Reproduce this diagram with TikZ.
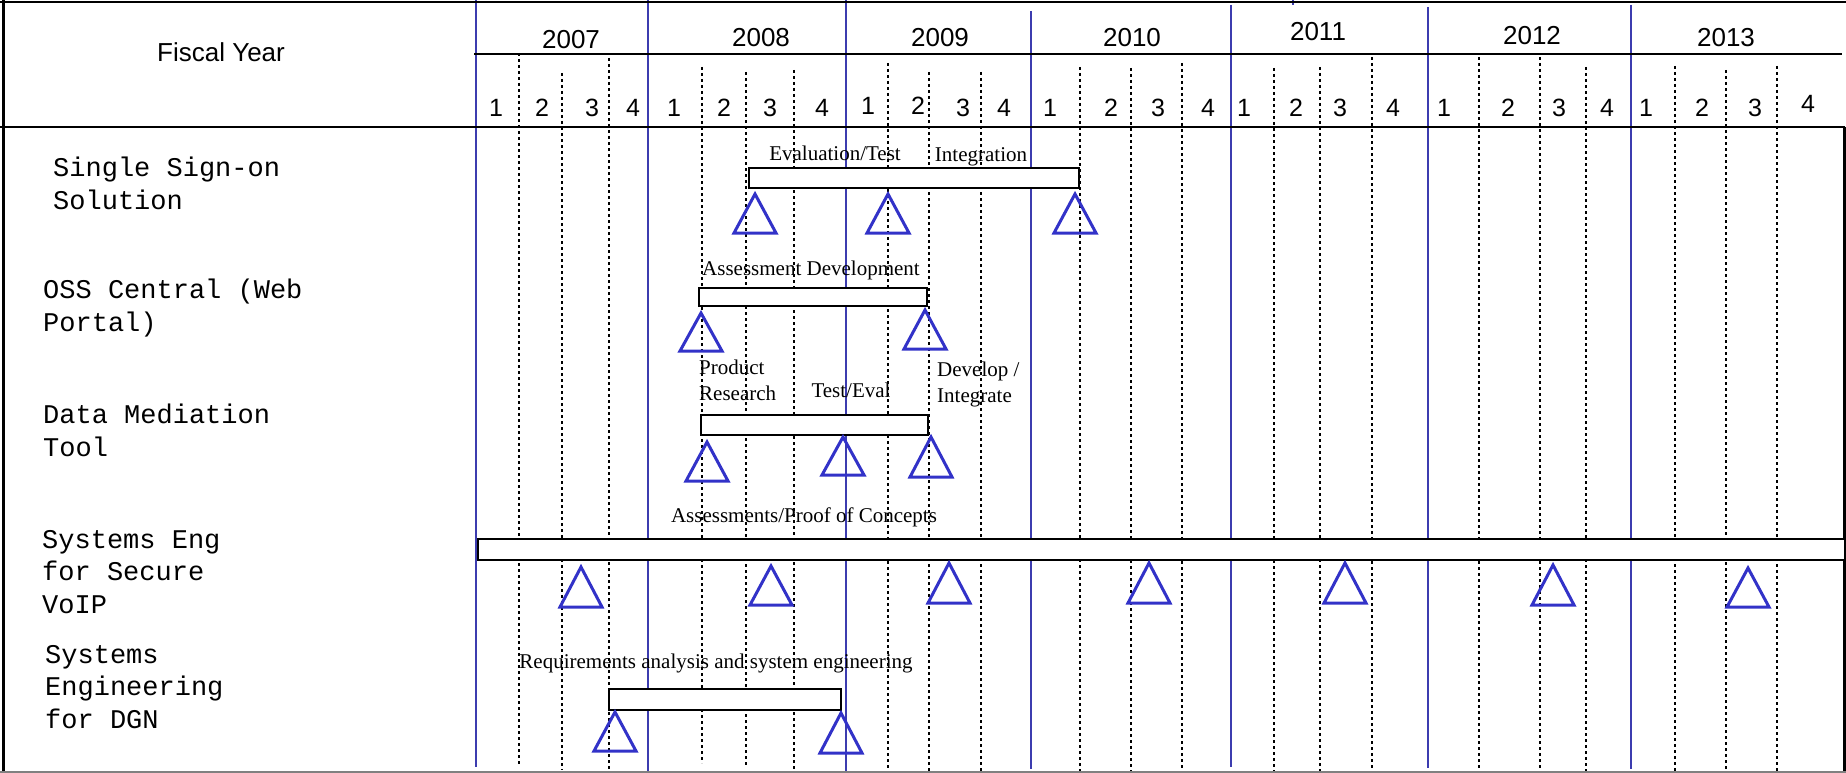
\documentclass[tikz,border=0pt]{standalone}
\usepackage{fontspec}
\newfontfamily\hdrfont{Liberation Sans}
\newfontfamily\rowfont{Liberation Mono}
\newfontfamily\barfont{Liberation Serif}
\definecolor{yearblue}{RGB}{60,60,175}
\definecolor{msblue}{RGB}{50,50,200}

\begin{document}
\begin{tikzpicture}[x=1pt, y=-1pt,
    yearline/.style={yearblue, line width=1.6},
    qline/.style={line width=2, dash pattern=on 3 off 3},
    frame/.style={line width=2.5},
    bar/.style={draw, fill=white, line width=2.5},
    mstone/.style={msblue, line width=3},
    ylabel/.style={anchor=base, inner sep=0, font=\hdrfont\fontsize{26}{30}\selectfont},
    qlabel/.style={anchor=base, inner sep=0, font=\hdrfont\fontsize{25}{30}\selectfont},
    rowlabel/.style={anchor=base west, inner sep=0, align=left, font=\rowfont\fontsize{27}{32.5}\selectfont},
    barlabel/.style={anchor=base, inner sep=0, align=left, font=\barfont\fontsize{21}{25.5}\selectfont}]
    \useasboundingbox (0,0) rectangle (1846,773);

    % quarter lines
    \foreach \x/\t/\b in {519/53/765, 562/73/770, 609/58/773, 702/67/763, 746/72/767, 794/70/773,
                          888/63/773, 929/72/773, 981/72/773, 1080/67/773, 1131/68/773, 1182/63/773,
                          1274/68/773, 1320/67/773, 1372/57/773, 1479/57/773, 1540/57/773, 1586/67/773,
                          1675/66/773, 1726/70/773, 1777/66/773}
      \draw[qline] (\x,\t) -- (\x,\b);

    % year lines
    \foreach \x/\t/\b in {476/0/767, 648/0/773, 846/0/773, 1031/11/769, 1231/5/767, 1428/7/768, 1631/5/769}
      \draw[yearline] (\x,\t) -- (\x,\b);
    \draw[yearline] (1293,0) -- (1293,5);

    % frame
    \draw[frame] (0,2) -- (1846,2);
    \draw[frame] (474,54) -- (1842,54);
    \draw[frame] (0,127) -- (1845,127);
    \draw[line width=3] (3,0) -- (3,773);
    \draw[frame] (1844.5,127) -- (1844.5,773);
    \draw[gray, line width=1.5] (0,772) -- (1846,772);

    % header
    \node[anchor=base, inner sep=0, font=\hdrfont\fontsize{26}{30}\selectfont] (fy) at (221,62) {Fiscal Year};
    \foreach \x/\y/\yr in {571/49/2007, 761/47/2008, 940/47/2009, 1132/47/2010, 1318/41/2011, 1532/45/2012, 1726/47/2013}
      \node[ylabel] (y\yr) at (\x,\y) {\yr};
    \foreach \x/\y/\q [count=\i] in {496/117/1, 542/117/2, 592/117/3, 633/117/4,
                                    674/117/1, 724/117/2, 770/117/3, 822/117/4,
                                    868/114/1, 918/114/2, 963/117/3, 1004/117/4,
                                    1050/117/1, 1111/117/2, 1158/117/3, 1208/117/4,
                                    1244/117/1, 1296/117/2, 1340/117/3, 1393/117/4,
                                    1444/117/1, 1508/117/2, 1559/117/3, 1607/117/4,
                                    1646/117/1, 1702/117/2, 1755/117/3, 1808/113/4}
      \node[qlabel] (q\i) at (\x,\y) {\q};

    % rows (anchored at the last line)
    \node[rowlabel] (sso) at (53,209) {Single Sign-on\\Solution};
    \node[rowlabel] (oss) at (43,331) {OSS Central (Web\\Portal)};
    \node[rowlabel] (dmt) at (43,456) {Data Mediation\\Tool};
    \node[rowlabel] (voip) at (42,613) {Systems Eng\\for Secure\\VoIP};
    \node[rowlabel] (dgn) at (45,728) {Systems\\Engineering\\for DGN};

    % bars
    \draw[bar] (749,168) rectangle (1079,188);
    \draw[bar] (699,288) rectangle (927,306);
    \draw[bar] (701,415) rectangle (928,435);
    \draw[bar] (478,539) rectangle (1845,560);
    \draw[bar] (609,689) rectangle (841,710);

    \node[barlabel] (evt) at (835,160) {Evaluation/Test};
    \node[barlabel] (intg) at (981,161) {Integration};
    \node[barlabel] (asdv) at (811,275) {Assessment Development};
    \node[barlabel, anchor=base west] (prr) at (699,400) {Product\\Research};
    \node[barlabel] (tev) at (851,397) {Test/Eval};
    \node[barlabel, anchor=base west] (dvi) at (937,402) {Develop /\\Integrate};
    \node[barlabel] (apc) at (804,522) {Assessments/Proof of Concepts};
    \node[barlabel] (rase) at (716,668) {Requirements analysis and system engineering};

    % milestones
    \foreach \x/\a/\b in {755/194/233, 888/194/233, 1075/194/233,
                          701/313/351, 925/310/349,
                          707/442/481, 843/437/475, 931/437/477,
                          581/567/607, 771/566/605, 949/563/603, 1149/563/603, 1345/563/603, 1553/565/605, 1748/568/607,
                          615/712/751, 841/713/753}
      \draw[mstone] (\x,\a) -- (\x+21,\b) -- (\x-21,\b) -- cycle;
\end{tikzpicture}
\end{document}
